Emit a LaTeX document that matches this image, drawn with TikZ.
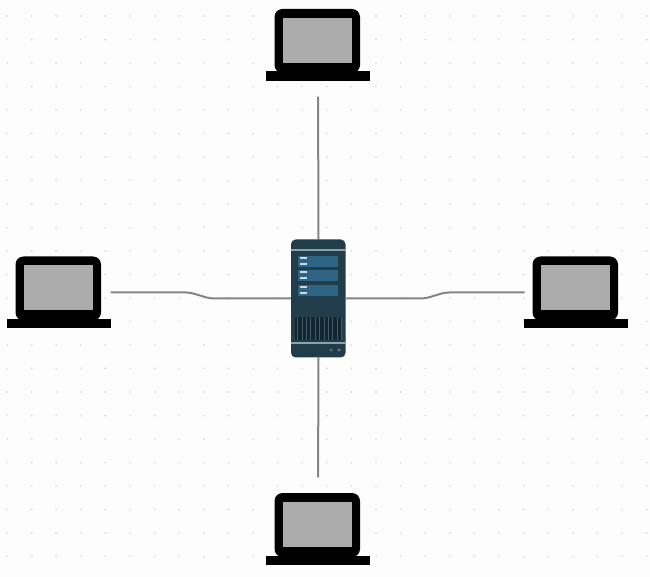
\documentclass[tikz,border=0pt]{standalone}
\definecolor{bgc}{HTML}{FDFDFD}
\definecolor{dotc}{HTML}{E4E4E4}
\definecolor{wirec}{HTML}{858585}
\definecolor{screenc}{HTML}{ABABAB}
\definecolor{srvc}{HTML}{213D4B}
\definecolor{panelc}{HTML}{2F6584}
\definecolor{ventc}{HTML}{12262F}
\definecolor{stripc}{HTML}{8FA0A8}
\tikzset{
  x=0.75pt,y=-0.75pt,
  laptopbox/.style={inner sep=0pt,outer sep=0pt,minimum width=77.25pt,minimum height=53.6pt},
  serverbox/.style={inner sep=0pt,outer sep=0pt,minimum width=41pt,minimum height=88.5pt},
  wire/.style={draw=wirec,line width=1.5pt,rounded corners=3pt},
  gap/.style={shorten <=12pt},
  pics/laptop/.style={code={
    \fill[black,rounded corners=6pt] (-43.5,-36) rectangle (42,28);
    \fill[black] (-52,26.5) rectangle (51.5,36);
    \fill[screenc] (-35,-27) rectangle (34,18);
  }},
  pics/server/.style={code={
    \fill[srvc,rounded corners=3.5pt] (-27.5,-59) rectangle (27,59);
    \fill[stripc] (-27.5,-49.5) rectangle (27,-47.5);
    \fill[stripc] (-27.5,43.5) rectangle (27,45.5);
    \foreach \py in {-42,-28,-13}{
      \fill[panelc] (-20.5,\py) rectangle (19.5,\py+11);
      \fill[white!75!panelc] (-19,\py+1) rectangle (-12,\py+3);
      \fill[white!75!panelc] (-19,\py+7) rectangle (-12,\py+9);
    }
    \fill[ventc] (-23.5,19) rectangle (23.5,42);
    \foreach \vx in {-21,-16.6,...,23}{
      \draw[srvc!85!white,line width=0.55pt] (\vx,19) -- (\vx,42);
    }
    \fill[stripc!55!srvc] (12.5,51.5) circle (1.5);
    \fill[stripc!75!srvc] (20.5,51.5) circle (1.5);
  }}
}
\begin{document}
\begin{tikzpicture}
\useasboundingbox (0,0) rectangle (650,577);
\fill[bgc] (0,0) rectangle (650,577);
\foreach \i in {0,...,26}{
  \foreach \j in {0,...,24}{
    \fill[dotc] ({7+24.6*\i},{16+23.5*\j}) circle (1.2);
  }
}
\node[laptopbox] (top) at (318,45) {};
\node[laptopbox] (left) at (59,292.5) {};
\node[laptopbox] (right) at (576,292.5) {};
\node[laptopbox] (bottom) at (318,529) {};
\node[serverbox] (server) at (318.5,298.5) {};
\draw[wire,gap] (top.south) -- (server.north);
\draw[wire,gap] (bottom.north) -- (server.south);
\draw[wire] (left.east) -- (190,292.5) -- (210,298.5) -- (server.west);
\draw[wire] (right.west) -- (445,292.5) -- (425,298.5) -- (server.east);
\pic at (top) {laptop};
\pic at (left) {laptop};
\pic at (right) {laptop};
\pic at (bottom) {laptop};
\pic at (server) {server};
\end{tikzpicture}
\end{document}
